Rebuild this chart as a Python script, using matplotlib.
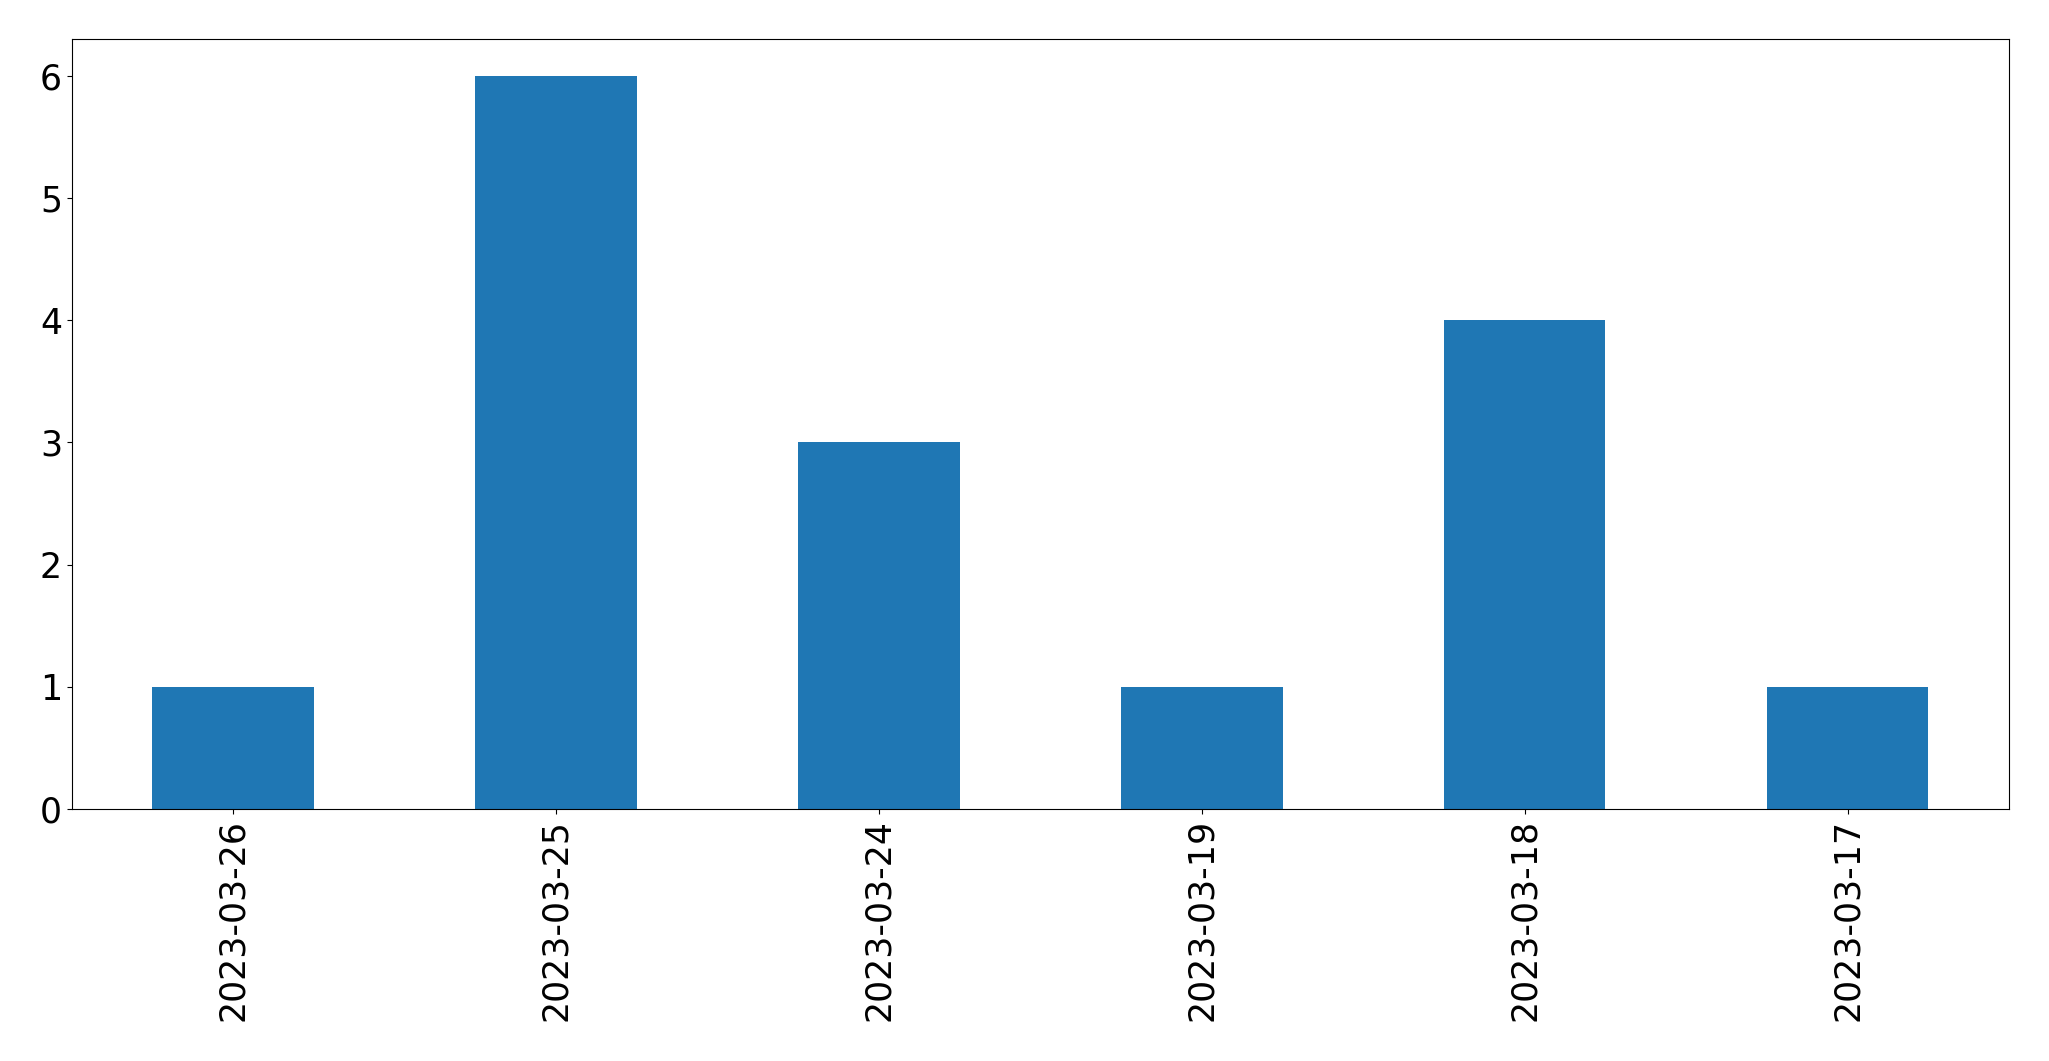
import matplotlib; matplotlib.use("Agg"); import matplotlib.pyplot as plt
import pandas as pd

dates = ["2023-03-26", "2023-03-25", "2023-03-24", "2023-03-19", "2023-03-18", "2023-03-17"]
counts = [1, 6, 3, 1, 4, 1]

s = pd.Series(counts, index=dates)
fig = plt.figure(figsize=(20.49, 10.61), dpi=100)
ax = fig.add_axes([0.035, 0.2375, 0.9455, 0.7255])
s.plot.bar(ax=ax, color='#1f77b4', width=0.5)
ax.tick_params(labelsize=25)
fig.savefig("out.png", dpi=100)
